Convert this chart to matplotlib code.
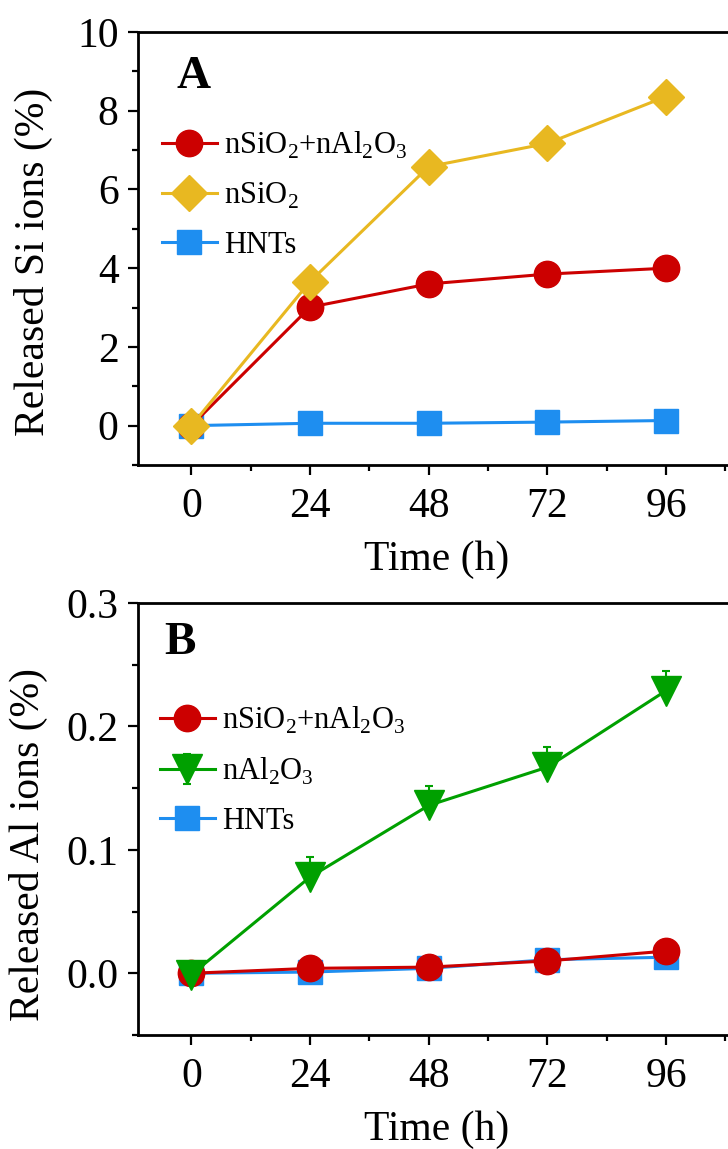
import numpy as np
import matplotlib
matplotlib.use("Agg")
import matplotlib.pyplot as plt
from matplotlib.ticker import MultipleLocator

plt.rcParams['font.family'] = ['Liberation Serif', 'DejaVu Serif']
plt.rcParams['mathtext.fontset'] = 'custom'
plt.rcParams['mathtext.rm'] = 'Liberation Serif'

# data
time_h = [0, 24, 48, 72, 96]

si_mix = [0.0, 3.01, 3.60, 3.85, 4.00]
si_nsio2 = [0.0, 3.66, 6.58, 7.17, 8.36]
si_hnts = [0.0, 0.06, 0.06, 0.09, 0.13]

al_mix = [0.0, 0.004, 0.005, 0.010, 0.018]
al_nal2o3 = [-0.001, 0.078, 0.136, 0.167, 0.229]
al_nal2o3_err = [0.0, 0.016, 0.016, 0.016, 0.016]
al_hnts = [0.0, 0.001, 0.004, 0.011, 0.013]

lab_mix = r'nSiO$_2$+nAl$_2$O$_3$'
lab_sio2 = r'nSiO$_2$'
lab_al2o3 = r'nAl$_2$O$_3$'
lab_hnts = 'HNTs'

RED = '#cc0000'
GOLD = '#e8b821'
BLUE = '#1e8ef0'
GREEN = '#00a000'

fig = plt.figure(figsize=(7.28, 11.49), dpi=100)
W, H = 728.0, 1149.0
left_px, right_px = 138, 760


def make_axes(top_px, bot_px):
    return fig.add_axes([left_px / W, 1 - bot_px / H, (right_px - left_px) / W, (bot_px - top_px) / H])


def style(ax):
    for s in ax.spines.values():
        s.set_linewidth(2.0)
    ax.tick_params(which='major', direction='out', length=7, width=1.6, labelsize=30)
    ax.tick_params(which='minor', direction='out', length=4.5, width=1.6)
    ax.tick_params(axis='x', which='major', pad=9)
    ax.tick_params(axis='y', which='major', pad=7)
    ax.set_xlim(-10.8, 115)
    ax.xaxis.set_major_locator(MultipleLocator(24))
    ax.xaxis.set_minor_locator(MultipleLocator(12))
    ax.set_xticks(time_h)
    ax.set_xlabel('Time (h)', fontsize=30)


lw = 2.2
leg_kw = dict(loc='upper left', frameon=False, fontsize=22, handlelength=1.8,
              handletextpad=0.25, labelspacing=0.66, borderpad=0, borderaxespad=0)

# panel A
axA = make_axes(32, 465)
style(axA)
axA.plot(time_h, si_hnts, '-s', color=BLUE, lw=lw, ms=17, label=lab_hnts, zorder=3)
axA.plot(time_h, si_mix, '-o', color=RED, lw=lw, ms=19, label=lab_mix, zorder=4)
axA.plot(time_h, si_nsio2, '-D', color=GOLD, lw=lw, ms=18, label=lab_sio2, zorder=5)
axA.set_ylim(-1, 10)
axA.yaxis.set_major_locator(MultipleLocator(2))
axA.yaxis.set_minor_locator(MultipleLocator(1))
axA.set_ylabel('Released Si ions (%)', fontsize=30)
axA.yaxis.set_label_coords(-0.136, 0.47)
axA.xaxis.set_label_coords(0.48, -0.175)
axA.text(0.062, 0.945, 'A', transform=axA.transAxes, fontsize=34, fontweight='bold', va='top')
h, l = axA.get_legend_handles_labels()
axA.legend([h[1], h[2], h[0]], [l[1], l[2], l[0]], bbox_to_anchor=(0.038, 0.775), **leg_kw)

# panel B
axB = make_axes(603, 1035)
style(axB)
axB.plot(time_h, al_hnts, '-s', color=BLUE, lw=lw, ms=17, label=lab_hnts, zorder=3)
axB.plot(time_h, al_mix, '-o', color=RED, lw=lw, ms=19, label=lab_mix, zorder=4)
axB.errorbar(time_h, al_nal2o3, yerr=[np.zeros(len(time_h)), al_nal2o3_err], fmt='-v',
             color=GREEN, lw=lw, ms=22, elinewidth=1.5, capsize=3, capthick=1.5,
             label=lab_al2o3, zorder=5)
axB.set_ylim(-0.05, 0.3)
axB.yaxis.set_major_locator(MultipleLocator(0.1))
axB.yaxis.set_minor_locator(MultipleLocator(0.05))
axB.yaxis.set_major_formatter(matplotlib.ticker.FormatStrFormatter('%.1f'))
axB.set_ylabel('Released Al ions (%)', fontsize=30)
axB.yaxis.set_label_coords(-0.145, 0.44)
axB.xaxis.set_label_coords(0.48, -0.175)
axB.text(0.042, 0.955, 'B', transform=axB.transAxes, fontsize=34, fontweight='bold', va='top')
h, l = axB.get_legend_handles_labels()
axB.legend([h[1], h[2], h[0]], [l[1], l[2], l[0]], bbox_to_anchor=(0.035, 0.765), **leg_kw)

fig.savefig('out.png', dpi=100)
